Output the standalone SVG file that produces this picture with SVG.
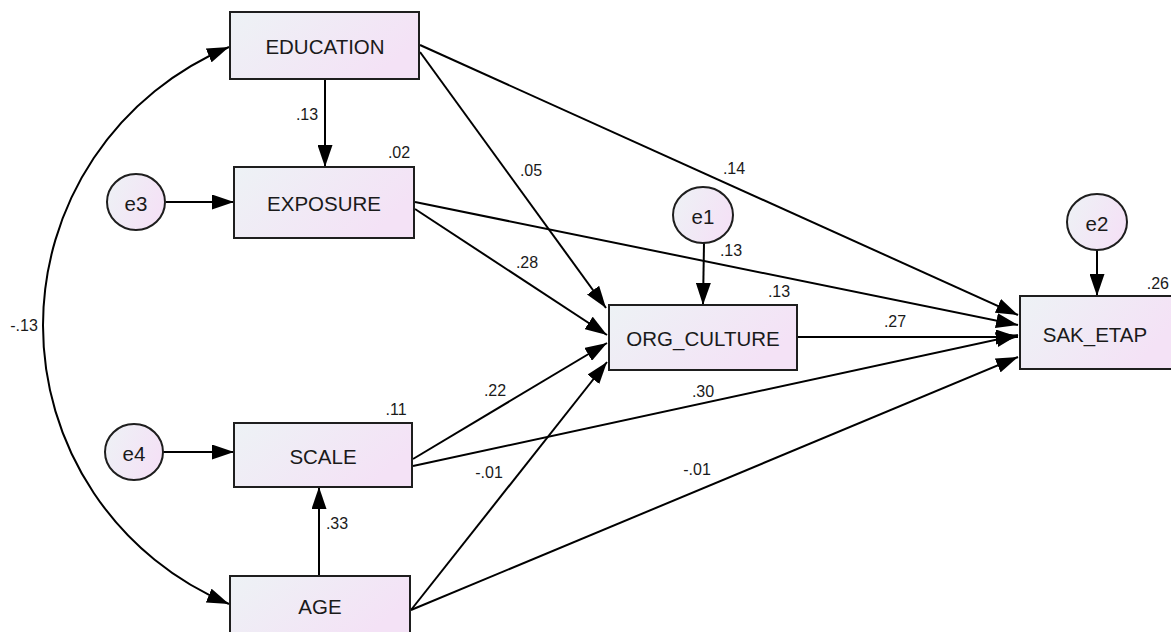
<svg xmlns="http://www.w3.org/2000/svg" width="1171" height="632" viewBox="0 0 1171 632">
<style>
.box{stroke:#1e1e1e;stroke-width:2;fill:url(#g)}
.ell{stroke:#1e1e1e;stroke-width:2;fill:url(#g)}
.lbl{font-family:"Liberation Sans",Arial,sans-serif;font-size:20.5px;fill:#1a1a1a;text-anchor:middle;dominant-baseline:central}
.num{font-family:"Liberation Sans",Arial,sans-serif;font-size:16px;fill:#1a1a1a;text-anchor:middle;dominant-baseline:central}
.edge{stroke:#000;stroke-width:2;fill:none;marker-end:url(#ah)}
</style>
<defs>
<linearGradient id="g" x1="0" y1="0" x2="1" y2="0.4">
<stop offset="0" stop-color="#edf2f5"/>
<stop offset="1" stop-color="#f4e2f6"/>
</linearGradient>
<marker id="ah" markerUnits="userSpaceOnUse" markerWidth="22" markerHeight="15" refX="22" refY="7.5" orient="auto-start-reverse">
<path d="M0,0 L22,7.5 L0,15 z" fill="#000"/>
</marker>
</defs>
<rect width="1171" height="632" fill="#fff"/>
<g id="connectors">
<path class="edge" d="M229,47 A301.5,301.5 0 0 0 229,604" marker-start="url(#ah)"/>
<line class="edge" x1="325" y1="79" x2="325" y2="167"/>
<line class="edge" x1="319" y1="576" x2="319" y2="487"/>
<line class="edge" x1="166" y1="202" x2="234" y2="202"/>
<line class="edge" x1="163" y1="452" x2="234" y2="452"/>
<line class="edge" x1="704" y1="243" x2="703" y2="305"/>
<line class="edge" x1="1097" y1="250" x2="1097" y2="296"/>
<line class="edge" x1="420" y1="52" x2="606" y2="308"/>
<line class="edge" x1="420" y1="45" x2="1018" y2="315"/>
<line class="edge" x1="415" y1="209" x2="607" y2="335"/>
<line class="edge" x1="415" y1="202" x2="1018" y2="325"/>
<line class="edge" x1="413" y1="459" x2="607" y2="343"/>
<line class="edge" x1="413" y1="466" x2="1018" y2="335"/>
<line class="edge" x1="411" y1="610" x2="607" y2="362"/>
<line class="edge" x1="411" y1="610" x2="1018" y2="357"/>
<line class="edge" x1="797" y1="337" x2="1018" y2="337"/>
</g>
<g id="education"><rect class="box" x="230" y="12" width="189" height="67"/><text class="lbl" x="325" y="46">EDUCATION</text></g>
<g id="exposure"><rect class="box" x="234" y="167" width="180" height="71"/><text class="lbl" x="324" y="203">EXPOSURE</text></g>
<g id="scale"><rect class="box" x="234" y="423" width="178" height="64"/><text class="lbl" x="323" y="456">SCALE</text></g>
<g id="age"><rect class="box" x="230" y="576" width="180" height="60"/><text class="lbl" x="320" y="606">AGE</text></g>
<g id="org_culture"><rect class="box" x="609" y="305" width="188" height="65"/><text class="lbl" x="703" y="338">ORG_CULTURE</text></g>
<g id="sak_etap"><rect class="box" x="1020" y="296" width="152" height="73"/><text class="lbl" x="1095" y="334">SAK_ETAP</text></g>
<g id="e1"><ellipse class="ell" cx="703" cy="215" rx="30" ry="28"/><text class="lbl" x="703" y="216">e1</text></g>
<g id="e2"><ellipse class="ell" cx="1097" cy="222" rx="30" ry="28"/><text class="lbl" x="1097" y="223">e2</text></g>
<g id="e3"><ellipse class="ell" cx="136" cy="202" rx="29" ry="28"/><text class="lbl" x="136" y="203">e3</text></g>
<g id="e4"><ellipse class="ell" cx="134" cy="452" rx="29" ry="28"/><text class="lbl" x="134" y="453">e4</text></g>
<g id="labels">
<text class="num" x="307" y="114">.13</text>
<text class="num" x="399" y="152">.02</text>
<text class="num" x="24" y="325">-.13</text>
<text class="num" x="531" y="170">.05</text>
<text class="num" x="734" y="168">.14</text>
<text class="num" x="527" y="262">.28</text>
<text class="num" x="731" y="250">.13</text>
<text class="num" x="779" y="291">.13</text>
<text class="num" x="895" y="321">.27</text>
<text class="num" x="1169" y="283" style="text-anchor:end">.26</text>
<text class="num" x="495" y="390">.22</text>
<text class="num" x="703" y="391">.30</text>
<text class="num" x="396" y="409">.11</text>
<text class="num" x="489" y="472">-.01</text>
<text class="num" x="697" y="469">-.01</text>
<text class="num" x="337" y="523">.33</text>
</g>
</svg>
